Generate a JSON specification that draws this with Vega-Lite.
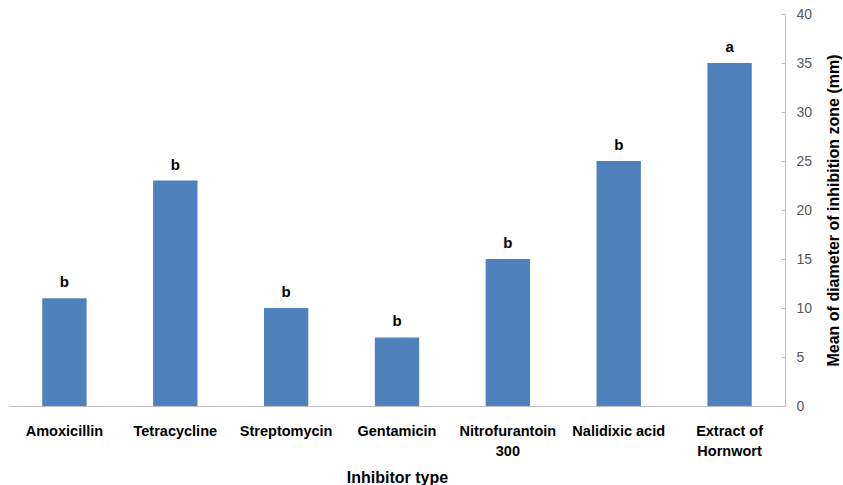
{
  "$schema": "https://vega.github.io/schema/vega-lite/v6.json",
  "autosize": "none",
  "padding": {"left": 9, "top": 14, "right": 58, "bottom": 79},
  "width": 776,
  "height": 392,
  "background": "white",
  "config": {"view": {"stroke": null}, "font": "Liberation Sans"},
  "data": {"values": [
    {"inhibitor": "Amoxicillin", "mean": 11, "group": "b"},
    {"inhibitor": "Tetracycline", "mean": 23, "group": "b"},
    {"inhibitor": "Streptomycin", "mean": 10, "group": "b"},
    {"inhibitor": "Gentamicin", "mean": 7, "group": "b"},
    {"inhibitor": "Nitrofurantoin 300", "mean": 15, "group": "b"},
    {"inhibitor": "Nalidixic acid", "mean": 25, "group": "b"},
    {"inhibitor": "Extract of Hornwort", "mean": 35, "group": "a"}
  ]},
  "encoding": {
    "x": {
      "field": "inhibitor", "type": "nominal", "sort": null,
      "scale": {"paddingInner": 0.6, "paddingOuter": 0.3},
      "axis": {
        "title": "Inhibitor type", "labelAngle": 0, "tickSize": 0,
        "domainColor": "#BFBFBF", "labelPadding": 18,
        "labelFont": "Liberation Sans", "labelFontWeight": "bold", "labelFontSize": 14.5, "labelColor": "#000000",
        "labelLineHeight": 20,
        "labelExpr": "datum.label == 'Nitrofurantoin 300' ? ['Nitrofurantoin','300'] : datum.label == 'Extract of Hornwort' ? ['Extract of','Hornwort'] : datum.label",
        "titleFont": "Liberation Sans", "titleFontWeight": "bold", "titleFontSize": 16, "titleColor": "#000000", "titlePadding": 12
      }
    },
    "y": {
      "field": "mean", "type": "quantitative",
      "scale": {"domain": [0, 40]},
      "axis": {
        "orient": "right", "values": [0, 5, 10, 15, 20, 25, 30, 35, 40], "grid": false,
        "title": "Mean of diameter of inhibition zone (mm)", "titleAngle": 270,
        "domainColor": "#BFBFBF", "tickColor": "#BFBFBF", "tickSize": -4, "labelPadding": 15,
        "labelFont": "Liberation Sans", "labelFontSize": 14, "labelColor": "#595959",
        "titleFont": "Liberation Sans", "titleFontWeight": "bold", "titleFontSize": 16, "titleColor": "#000000", "titlePadding": 30
      }
    }
  },
  "layer": [
    {"mark": {"type": "bar", "color": "#4F81BD"}},
    {"mark": {"type": "text", "baseline": "bottom", "dy": -8, "fontWeight": "bold", "fontSize": 15, "font": "Liberation Sans", "color": "#000000"},
     "encoding": {"text": {"field": "group"}}}
  ]
}
